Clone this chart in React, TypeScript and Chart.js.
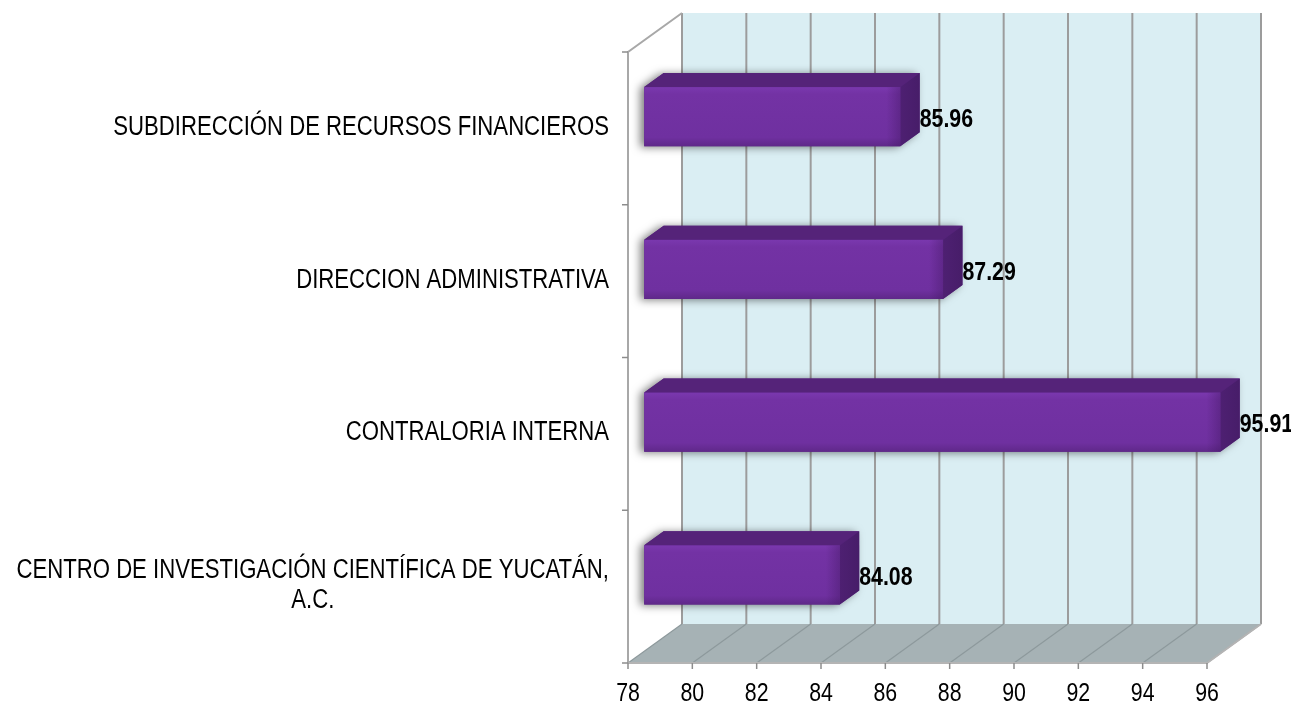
import React, { useEffect, useRef } from "react";
import { Chart, registerables } from "chart.js";

Chart.register(...registerables);

// ---- data ----
const categories: (string | string[])[] = [
  "SUBDIRECCIÓN DE RECURSOS FINANCIEROS",
  "DIRECCION ADMINISTRATIVA",
  "CONTRALORIA INTERNA",
  ["CENTRO DE INVESTIGACIÓN CIENTÍFICA DE YUCATÁN,", "A.C."],
];
const values: number[] = [85.96, 87.29, 95.91, 84.08];
const tickValues: number[] = [78, 80, 82, 84, 86, 88, 90, 92, 94, 96];
const axisMin = 78;
const axisMax = 96;

// ---- 3D geometry (style) ----
const DX = 54; // depth offset x
const DY = -39; // depth offset y
const F0 = 0.3; // bar front depth fraction
const F1 = 0.66; // bar back depth fraction

let narrowAvailable: boolean | null = null;
function detectNarrow(ctx: CanvasRenderingContext2D) {
  if (narrowAvailable !== null) return narrowAvailable;
  ctx.save();
  const s = "SUBDIRECCIÓN DE RECURSOS 0123456789";
  ctx.font = '24px "Liberation Sans Narrow", monospace';
  const a = ctx.measureText(s).width;
  ctx.font = "24px monospace";
  const b = ctx.measureText(s).width;
  ctx.restore();
  narrowAvailable = Math.abs(a - b) > 1;
  return narrowAvailable;
}

function drawText(
  ctx: CanvasRenderingContext2D,
  s: string,
  x: number,
  y: number,
  align: CanvasTextAlign,
  weight: string,
  size: number
) {
  ctx.save();
  ctx.fillStyle = "#000000";
  ctx.textBaseline = "middle";
  ctx.textAlign = align;
  if (detectNarrow(ctx)) {
    ctx.font = `${weight} ${size}px "Liberation Sans Narrow"`;
    ctx.fillText(s, x, y);
  } else {
    ctx.font = `${weight} ${size}px "Liberation Sans", Arial, sans-serif`;
    ctx.translate(x, y);
    ctx.scale(0.82, 1);
    ctx.fillText(s, 0, 0);
  }
  ctx.restore();
}

function textWidth(ctx: CanvasRenderingContext2D, s: string, weight: string, size: number) {
  ctx.save();
  let w: number;
  if (detectNarrow(ctx)) {
    ctx.font = `${weight} ${size}px "Liberation Sans Narrow"`;
    w = ctx.measureText(s).width;
  } else {
    ctx.font = `${weight} ${size}px "Liberation Sans", Arial, sans-serif`;
    w = ctx.measureText(s).width * 0.82;
  }
  ctx.restore();
  return w;
}

const threeDPlugin = {
  id: "threeD",
  beforeDatasetsDraw(chart: any) {
    const ctx: CanvasRenderingContext2D = chart.ctx;
    const { left, right, top, bottom } = chart.chartArea;
    const xs = chart.scales.x;
    const ys = chart.scales.y;
    ctx.save();

    // back wall
    ctx.fillStyle = "#DAEEF3";
    ctx.fillRect(left + DX, top + DY, right - left, bottom - top);

    // back gridlines
    ctx.strokeStyle = "#9C9C9C";
    ctx.lineWidth = 2;
    tickValues.forEach((v) => {
      const px = xs.getPixelForValue(v) + DX;
      ctx.beginPath();
      ctx.moveTo(px, top + DY);
      ctx.lineTo(px, bottom + DY);
      ctx.stroke();
    });

    // floor
    ctx.fillStyle = "#A6B2B5";
    ctx.beginPath();
    ctx.moveTo(left, bottom);
    ctx.lineTo(right, bottom);
    ctx.lineTo(right + DX, bottom + DY);
    ctx.lineTo(left + DX, bottom + DY);
    ctx.closePath();
    ctx.fill();

    // floor lines
    ctx.strokeStyle = "#8D999C";
    ctx.lineWidth = 1.2;
    tickValues.forEach((v) => {
      const px = xs.getPixelForValue(v);
      ctx.beginPath();
      ctx.moveTo(px, bottom);
      ctx.lineTo(px + DX, bottom + DY);
      ctx.stroke();
    });
    ctx.strokeStyle = "#B4B4B4";
    ctx.lineWidth = 2;
    ctx.beginPath();
    ctx.moveTo(left, bottom);
    ctx.lineTo(right, bottom);
    ctx.lineTo(right + DX, bottom + DY);
    ctx.stroke();

    // left wall edges
    ctx.strokeStyle = "#A8A8A8";
    ctx.lineWidth = 2;
    ctx.beginPath();
    ctx.moveTo(left + DX, top + DY);
    ctx.lineTo(left, top);
    ctx.lineTo(left, bottom);
    ctx.stroke();

    // left tick marks at category boundaries
    const n = categories.length;
    const band = (bottom - top) / n;
    ctx.strokeStyle = "#8C8C8C";
    ctx.lineWidth = 1.5;
    for (let i = 0; i <= n; i++) {
      const y = top + i * band;
      ctx.beginPath();
      ctx.moveTo(left - 6, y);
      ctx.lineTo(left, y);
      ctx.stroke();
    }

    // bottom tick marks + labels
    tickValues.forEach((v) => {
      const px = xs.getPixelForValue(v);
      ctx.beginPath();
      ctx.moveTo(px, bottom);
      ctx.lineTo(px, bottom + 6);
      ctx.stroke();
      drawText(ctx, String(v), px, bottom + 31, "center", "normal", 26);
    });

    // category labels
    categories.forEach((c, i) => {
      const cy = ys.getPixelForValue(i);
      const lines = Array.isArray(c) ? c : [c];
      const lh = 30;
      const rightEdge = left - 19;
      const widths = lines.map((l) => textWidth(ctx, l, "normal", 27));
      const maxW = Math.max(...widths);
      const centerX = rightEdge - maxW / 2;
      lines.forEach((l, j) => {
        const y = cy - 1 - ((lines.length - 1) * lh) / 2 + j * lh;
        drawText(ctx, l, centerX, y, "center", "normal", 27);
      });
    });

    ctx.restore();
  },
  afterDatasetsDraw(chart: any) {
    const ctx: CanvasRenderingContext2D = chart.ctx;
    const xs = chart.scales.x;
    const meta = chart.getDatasetMeta(0);
    const ddx = (F1 - F0) * DX;
    const ddy = (F1 - F0) * DY;
    const basePx = xs.getPixelForValue(axisMin);
    ctx.save();
    meta.data.forEach((el: any, i: number) => {
      const p = el.getProps(["x", "y", "height"], true);
      const x0 = basePx + F0 * DX;
      const x1 = xs.getPixelForValue(values[i]) + F0 * DX;
      const y0 = p.y - p.height / 2 + F0 * DY;
      const y1 = p.y + p.height / 2 + F0 * DY;

      // shadow silhouette
      ctx.save();
      ctx.shadowColor = "rgba(0,0,0,0.5)";
      ctx.shadowBlur = 8;
      ctx.shadowOffsetX = -4;
      ctx.shadowOffsetY = 1;
      ctx.fillStyle = "#5A2583";
      ctx.beginPath();
      ctx.moveTo(x0, y1);
      ctx.lineTo(x0, y0);
      ctx.lineTo(x0 + ddx, y0 + ddy);
      ctx.lineTo(x1 + ddx, y0 + ddy);
      ctx.lineTo(x1 + ddx, y1 + ddy);
      ctx.lineTo(x1, y1);
      ctx.closePath();
      ctx.fill();
      ctx.restore();

      // top face
      ctx.fillStyle = "#552379";
      ctx.beginPath();
      ctx.moveTo(x0, y0);
      ctx.lineTo(x1, y0);
      ctx.lineTo(x1 + ddx, y0 + ddy);
      ctx.lineTo(x0 + ddx, y0 + ddy);
      ctx.closePath();
      ctx.fill();

      // side face
      const sg = ctx.createLinearGradient(x1, 0, x1 + ddx, 0);
      sg.addColorStop(0, "#4E2072");
      sg.addColorStop(1, "#471D69");
      ctx.fillStyle = sg;
      ctx.beginPath();
      ctx.moveTo(x1, y0);
      ctx.lineTo(x1 + ddx, y0 + ddy);
      ctx.lineTo(x1 + ddx, y1 + ddy);
      ctx.lineTo(x1, y1);
      ctx.closePath();
      ctx.fill();

      // front face
      const fg = ctx.createLinearGradient(0, y0, 0, y1);
      fg.addColorStop(0, "#7A38AE");
      fg.addColorStop(0.12, "#7332A4");
      fg.addColorStop(0.85, "#6F30A0");
      fg.addColorStop(1, "#5F2889");
      ctx.fillStyle = fg;
      ctx.fillRect(x0, y0, x1 - x0, y1 - y0);
      const hg = ctx.createLinearGradient(x1 - 14, 0, x1, 0);
      hg.addColorStop(0, "rgba(60,20,90,0)");
      hg.addColorStop(1, "rgba(60,20,90,0.35)");
      ctx.fillStyle = hg;
      ctx.fillRect(x1 - 14, y0, 14, y1 - y0);

      // value label
      drawText(ctx, values[i].toFixed(2), x1 + ddx, (y0 + y1) / 2 + 3, "left", "bold", 26);
    });
    ctx.restore();
  },
};

export default function App() {
  const ref = useRef<HTMLCanvasElement | null>(null);
  useEffect(() => {
    document.body.style.margin = "0";
    const canvas = ref.current!;
    const chart = new Chart(canvas, {
      type: "bar",
      data: {
        labels: categories as any,
        datasets: [
          {
            data: values,
            base: axisMin,
            backgroundColor: "rgba(0,0,0,0)",
            borderWidth: 0,
            categoryPercentage: 1,
            barPercentage: 0.387,
          } as any,
        ],
      },
      options: {
        indexAxis: "y",
        responsive: false,
        animation: false,
        layout: { padding: { left: 628, right: 1291 - 1207, top: 52, bottom: 705 - 663 } },
        scales: {
          x: { type: "linear", min: axisMin, max: axisMax, display: false },
          y: { type: "category", display: false },
        },
        plugins: { legend: { display: false }, tooltip: { enabled: false } },
        events: [],
      },
      plugins: [threeDPlugin],
    });
    return () => chart.destroy();
  }, []);
  return (
    <div style={{ width: 1291, height: 705, background: "#ffffff" }}>
      <canvas ref={ref} width={1291} height={705} style={{ display: "block" }} />
    </div>
  );
}
